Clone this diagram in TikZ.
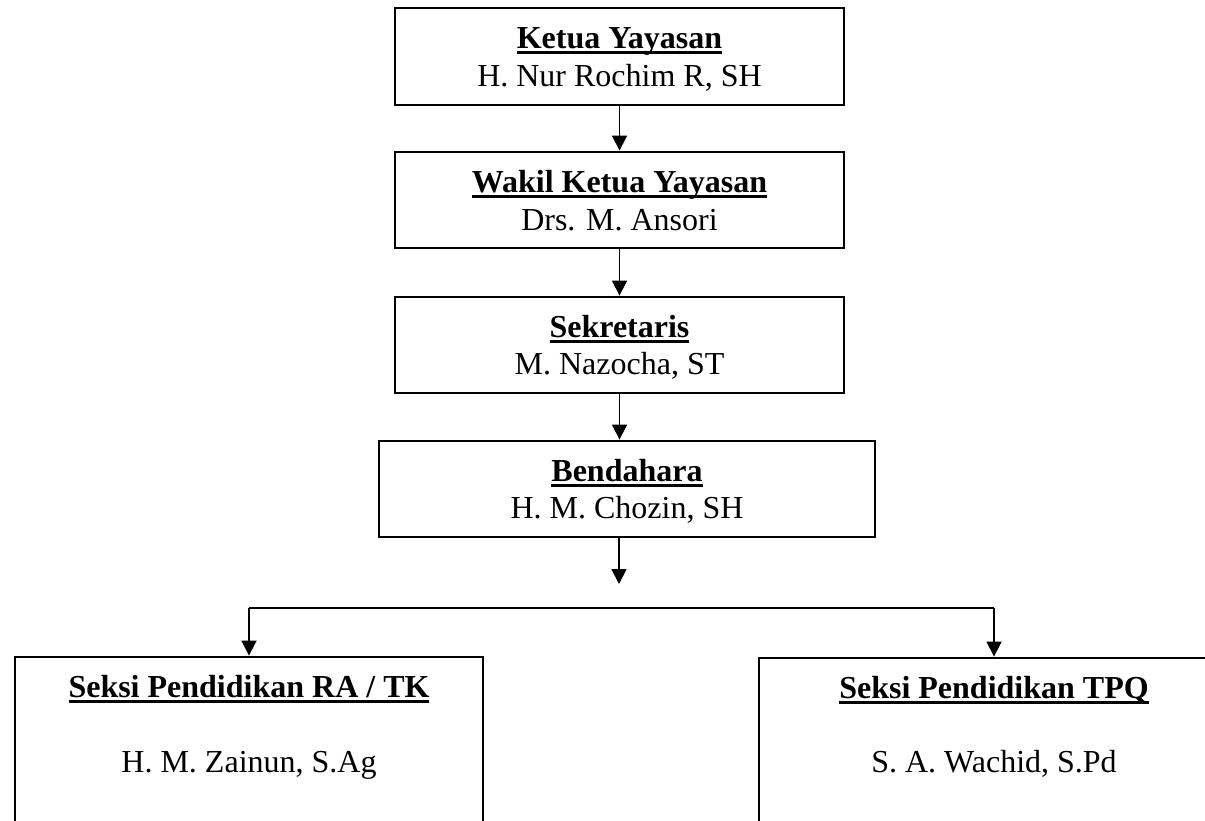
\documentclass[tikz,border=0pt]{standalone}
\usepackage{fontspec}
\setmainfont{Liberation Serif}
\usetikzlibrary{arrows.meta}
\newsavebox\ulsave
\newcommand\ulbox[1]{\sbox\ulsave{#1}\rlap{\rule[-6.2pt]{\wd\ulsave}{2.8pt}}\usebox\ulsave}
\begin{document}
\begin{tikzpicture}[x=1pt,y=-1pt,
  box/.style={draw, line width=2.9pt, inner sep=0pt},
  conn/.style={line width=1.8pt, -{Triangle[length=15pt,width=15pt]}},
  plain/.style={line width=1.8pt},
  txt/.style={anchor=base, inner sep=0pt, font=\fontsize{32}{37}\selectfont}]
\useasboundingbox (0,0) rectangle (1205,820);
\fill[white] (0,0) rectangle (1205,820);
\clip (0,0) rectangle (1205,820);
% boxes
\node[box, minimum width=449pt, minimum height=97pt] (b1) at (619.5,56.5) {};
\node[box, minimum width=449pt, minimum height=96pt] (b2) at (619.5,200) {};
\node[box, minimum width=449pt, minimum height=96pt] (b3) at (619.5,345) {};
\node[box, minimum width=496pt, minimum height=96pt] (b4) at (627,489) {};
\node[box, minimum width=468pt, minimum height=243pt] (bl) at (249,778.5) {};
\node[box, minimum width=470pt, minimum height=242pt] (br) at (994,779) {};
% texts
\node[txt] (t1a) at (619.5,48) {\ulbox{\textbf{Ketua Yayasan}}};
\node[txt] (t1b) at (619.5,86) {H. Nur Rochim R, SH};
\node[txt] (t2a) at (619.5,192) {\ulbox{\textbf{Wakil Ketua Yayasan}}};
\node[txt] (t2b) at (619.5,230) {Drs. M. Ansori};
\node[txt] (t3a) at (619.5,337) {\ulbox{\textbf{Sekretaris}}};
\node[txt] (t3b) at (619.5,374) {M. Nazocha, ST};
\node[txt] (t4a) at (627,481) {\ulbox{\textbf{Bendahara}}};
\node[txt] (t4b) at (627,518) {H. M. Chozin, SH};
\node[txt] (tla) at (249,697) {\ulbox{\textbf{Seksi Pendidikan RA / TK}}};
\node[txt] (tlb) at (249,772) {H. M. Zainun, S.Ag};
\node[txt] (tra) at (994,698) {\ulbox{\textbf{Seksi Pendidikan TPQ}}};
\node[txt] (trb) at (994,772) {S. A. Wachid, S.Pd};
% connectors
\coordinate (a4) at (619,584);
\coordinate (j) at (619,608);
\coordinate (jl) at (249,608);
\coordinate (jr) at (994,608);
\draw[conn] (b1) -- (b2);
\draw[conn] (b2) -- (b3);
\draw[conn] (b3.south) -- (b3.south |- b4.north);
\draw[conn] (b4.south -| j) -- (a4);
\draw[plain] (jl) -- (jr);
\draw[conn] (jl) -- (bl.north);
\draw[conn] (jr) -- (br.north);
\end{tikzpicture}
\end{document}
